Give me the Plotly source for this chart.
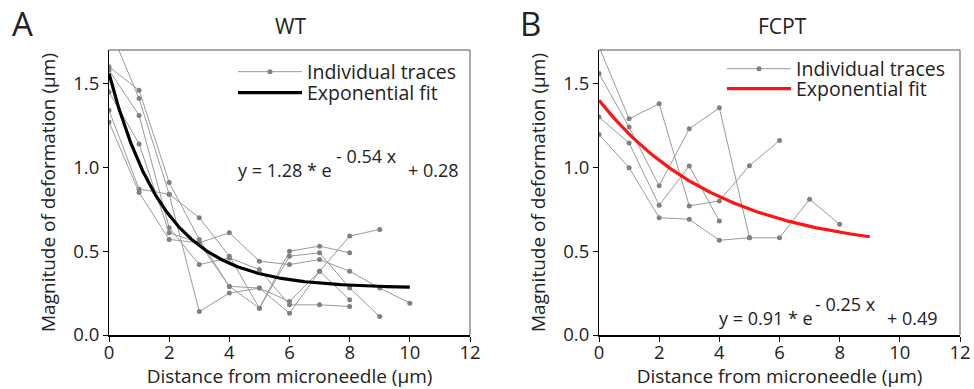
import numpy as np
import plotly.graph_objects as go

# ---------------- data ----------------
x_ticks = [0, 2, 4, 6, 8, 10, 12]
y_ticks = [0.0, 0.5, 1.0, 1.5]

# WT individual traces (x = 0,1,2,...)
wt_trace_1 = [1.60, 1.46, 0.91, 0.57, 0.29, 0.28, 0.20, 0.38, 0.59, 0.63]
wt_trace_2 = [1.84, 1.41, 0.84, 0.70, 0.47, 0.16, 0.50, 0.53, 0.49]
wt_trace_3 = [1.58, 1.31, 0.64, 0.42, 0.46, 0.39, 0.18, 0.18, 0.17]
wt_trace_4 = [1.45, 1.14, 0.61, 0.55, 0.61, 0.44, 0.42, 0.45, 0.38, 0.28, 0.19]
wt_trace_5 = [1.34, 0.87, 0.84, 0.14, 0.25, 0.28, 0.13, 0.38, 0.21]
wt_trace_6 = [1.27, 0.85, 0.57, 0.55, 0.29, 0.16, 0.47, 0.49, 0.28, 0.11]
wt_fit = {"a": 1.28, "k": 0.54, "c": 0.28, "xmax": 10}

# FCPT individual traces
fcpt_trace_1 = [1.72, 1.29, 1.38, 0.77, 0.80, 1.01, 1.16]
fcpt_trace_2 = [1.56, 1.24, 0.89, 1.23, 1.355, 0.58]
fcpt_trace_3 = [1.30, 1.145, 0.774, 1.008, 0.68]
fcpt_trace_4 = [1.196, 0.998, 0.70, 0.69, 0.565, 0.58, 0.58, 0.81, 0.66]
fcpt_fit = {"a": 0.91, "k": 0.25, "c": 0.49, "xmax": 9}

FONT = "Open Sans"
TXT = "#222222"
TRACE_LINE = "#9a9a9a"
TRACE_DOT = "#808080"

fig = go.Figure()


def add_panel(traces, fit, fit_color, xa, ya, leg_traces, leg_fit):
    for i, tr in enumerate(traces):
        fig.add_trace(go.Scatter(
            x=list(range(len(tr))), y=tr, mode="lines+markers",
            line=dict(color=TRACE_LINE, width=1),
            marker=dict(color=TRACE_DOT, size=5),
            name="Individual traces", showlegend=(i == 0),
            legend=leg_traces, xaxis=xa, yaxis=ya,
        ))
    xf = np.linspace(0, fit["xmax"], 200)
    yf = fit["a"] * np.exp(-fit["k"] * xf) + fit["c"]
    fig.add_trace(go.Scatter(
        x=xf, y=yf, mode="lines", line=dict(color=fit_color, width=3.2),
        name="Exponential fit", legend=leg_fit, xaxis=xa, yaxis=ya,
    ))


add_panel([wt_trace_1, wt_trace_2, wt_trace_3, wt_trace_4, wt_trace_5, wt_trace_6],
          wt_fit, "#000000", "x", "y", "legend", "legend2")
add_panel([fcpt_trace_1, fcpt_trace_2, fcpt_trace_3, fcpt_trace_4],
          fcpt_fit, "#ff1414", "x2", "y2", "legend3", "legend4")

W, H = 974, 389
def px(v):
    return v / W
def py(v):
    return 1 - v / H

xdomA = [px(109), px(470)]
xdomB = [px(599), px(960)]
ydom = [py(335), py(50)]

axis_font = dict(family=FONT, size=18.5, color=TXT)
title_font = dict(family=FONT, size=19, color=TXT)

xcommon = dict(range=[0, 12], tickvals=x_ticks, ticks="outside", ticklen=5,
               tickwidth=1, tickcolor="#000", showline=True, linecolor="#000",
               linewidth=2, showgrid=False, zeroline=False, tickfont=axis_font,
               automargin=False, ticklabelstandoff=-5,
               title=dict(text="Distance from microneedle (µm)", font=title_font, standoff=3))
ycommon = dict(range=[0, 1.7], tickvals=y_ticks, tickformat=".1f", ticks="outside",
               ticklen=5, tickwidth=1, tickcolor="#000", showline=True,
               linecolor="#000", linewidth=1, showgrid=False, zeroline=False,
               tickfont=axis_font, automargin=False,
               title=dict(text="Magnitude of deformation (µm)", font=title_font, standoff=12))

leg_font = dict(family=FONT, size=19.5, color=TXT)


def leg(xp, yp):
    return dict(x=px(xp), y=py(yp), xanchor="left", yanchor="middle",
                bgcolor="rgba(0,0,0,0)", itemwidth=64, tracegroupgap=0,
                font=leg_font)


fig.update_layout(
    width=W, height=H, margin=dict(l=0, r=0, t=0, b=0, autoexpand=False),
    paper_bgcolor="white", plot_bgcolor="white",
    xaxis=dict(domain=xdomA, anchor="y", **xcommon),
    yaxis=dict(domain=ydom, anchor="x", **ycommon),
    xaxis2=dict(domain=xdomB, anchor="y2", **xcommon),
    yaxis2=dict(domain=ydom, anchor="x2", **ycommon),
    legend=leg(233, 72),
    legend2=leg(233, 93),
    legend3=leg(722, 69),
    legend4=leg(722, 89),
    showlegend=True,
)

# gray frame (top/right) around each plot area
for xr, yr in [("x domain", "y domain"), ("x2 domain", "y2 domain")]:
    fig.add_shape(type="line", xref=xr, yref=yr, x0=0, x1=1, y0=1, y1=1,
                  line=dict(color="#555", width=1))
    fig.add_shape(type="line", xref=xr, yref=yr, x0=1, x1=1, y0=0, y1=1,
                  line=dict(color="#555", width=1))

# fit equations: base, superscript exponent, constant
eq_font = dict(family=FONT, size=18, color=TXT)
equations = [
    ("y = 1.28 * e", "- 0.54 x", "+ 0.28", 236, 334, 406, 170, 156),
    ("y = 0.91 * e", "- 0.25 x", "+ 0.49", 717, 813, 885, 318, 304),
]
for base, expo, const, xb, xs, xc, yb, ys in equations:
    fig.add_annotation(xref="paper", yref="paper", x=px(xb), y=py(yb), xanchor="left",
                       yanchor="middle", showarrow=False, font=eq_font, text=base)
    fig.add_annotation(xref="paper", yref="paper", x=px(xs), y=py(ys), xanchor="left",
                       yanchor="middle", showarrow=False, font=eq_font, text=expo)
    fig.add_annotation(xref="paper", yref="paper", x=px(xc), y=py(yb), xanchor="left",
                       yanchor="middle", showarrow=False, font=eq_font, text=const)

# panel titles and letters
fig.add_annotation(xref="paper", yref="paper", x=px(290), y=py(26), showarrow=False,
                   xanchor="center", yanchor="middle",
                   text="WT", font=dict(family=FONT, size=21, color=TXT))
fig.add_annotation(xref="paper", yref="paper", x=px(782), y=py(26), showarrow=False,
                   xanchor="center", yanchor="middle",
                   text="FCPT", font=dict(family=FONT, size=21, color=TXT))
fig.add_annotation(xref="paper", yref="paper", x=px(22), y=py(24), showarrow=False,
                   xanchor="center", yanchor="middle",
                   text="A", font=dict(family=FONT, size=33, color=TXT))
fig.add_annotation(xref="paper", yref="paper", x=px(530), y=py(24), showarrow=False,
                   xanchor="center", yanchor="middle",
                   text="B", font=dict(family=FONT, size=33, color=TXT))

fig.write_html("out.html", config={"displayModeBar": False},
               post_script="document.body.style.margin='0';document.body.style.padding='0';"
                           "document.body.style.overflow='hidden';")
